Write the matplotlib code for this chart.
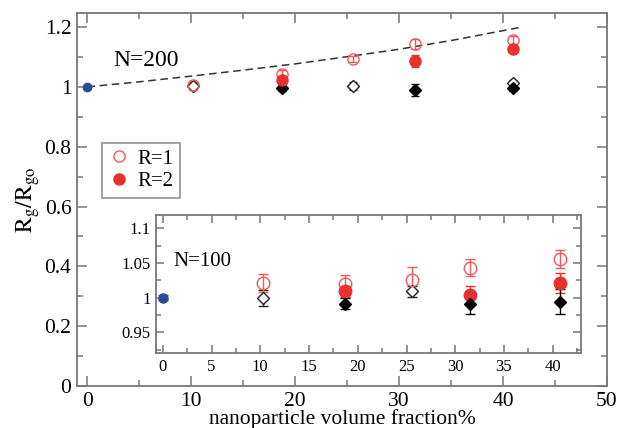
import matplotlib
matplotlib.use("Agg")
import matplotlib.pyplot as plt
from matplotlib.lines import Line2D
from matplotlib.ticker import MultipleLocator

plt.rcParams["font.family"] = ["Liberation Serif", "DejaVu Serif"]
plt.rcParams["mathtext.fontset"] = "stix"

# ---- main panel (N=200) ----
fit_x = [0, 5, 10, 15, 20, 25, 30, 35, 41.8]
fit_y = [1.0, 1.017, 1.036, 1.056, 1.077, 1.101, 1.126, 1.155, 1.2]

ref_x, ref_y, ref_err = [0], [1.0], [0.004]

r1_x = [10.2, 18.7, 25.6, 31.5, 41.0]
r1_y = [1.007, 1.043, 1.093, 1.143, 1.157]
r1_err = [0.01, 0.012, 0.01, 0.016, 0.014]

r2_x = [18.7, 31.5, 41.0]
r2_y = [1.023, 1.087, 1.127]
r2_err = [0.01, 0.02, 0.012]

d_open_x = [10.2, 25.6, 41.0]
d_open_y = [1.003, 1.003, 1.012]
d_open_err = [0.012, 0.012, 0.01]

d_fill_x = [18.7, 31.5, 41.0]
d_fill_y = [0.997, 0.99, 0.997]
d_fill_err = [0.01, 0.02, 0.012]

# ---- inset (N=100) ----
in_ref_x, in_ref_y, in_ref_err = [0], [1.0], [0.003]

in_r1_x = [10.3, 18.7, 25.6, 31.5, 40.7]
in_r1_y = [1.021, 1.020, 1.025, 1.043, 1.055]
in_r1_err = [0.013, 0.012, 0.019, 0.012, 0.013]

in_r2_x = [18.7, 31.5, 40.7]
in_r2_y = [1.009, 1.003, 1.021]
in_r2_err = [0.008, 0.014, 0.015]

in_d_open_x = [10.3, 18.7, 25.6]
in_d_open_y = [0.9995, 1.008, 1.009]
in_d_open_err = [0.012, 0.005, 0.008]

in_d_fill_x = [18.7, 31.5, 40.7]
in_d_fill_y = [0.991, 0.990, 0.994]
in_d_fill_err = [0.008, 0.014, 0.018]

legend_labels = ["R=1", "R=2"]

RED_OPEN = "#f05a5a"
RED = "#e8302c"
BLUE = "#2c4a9a"
GRAY = "#777777"


def style_axes(ax, size):
    for s in ax.spines.values():
        s.set_color(GRAY)
        s.set_linewidth(1.3)
    ax.tick_params(which="both", direction="in", top=True, right=True,
                   color=GRAY, labelsize=size, pad=4)
    ax.tick_params(which="major", length=7, width=1.1)
    ax.tick_params(which="minor", length=4, width=1.1)


fig = plt.figure(figsize=(6.19, 4.28), dpi=100)
ax = fig.add_axes([0.1244, 0.0981, 0.8562, 0.8715])

ax.plot(fit_x, fit_y, ls=(0, (5, 3)), color="#333333", lw=1.1, zorder=1)

eb = dict(capsize=3, elinewidth=1.0, capthick=1.0, linestyle="none", zorder=3)
ax.errorbar(d_open_x, d_open_y, yerr=d_open_err, marker="D", ms=6, mfc="white",
            mec="#222222", ecolor="#222222", **eb)
ax.errorbar(d_fill_x, d_fill_y, yerr=d_fill_err, marker="D", ms=6, mfc="black",
            mec="black", ecolor="black", **eb)
ax.errorbar(r1_x, r1_y, yerr=r1_err, marker="o", ms=8, mfc="none",
            mec=RED_OPEN, ecolor=RED_OPEN, **eb)
ax.errorbar(r2_x, r2_y, yerr=r2_err, marker="o", ms=8, mfc=RED,
            mec=RED, ecolor=RED, **eb)
ax.errorbar(ref_x, ref_y, yerr=ref_err, marker="o", ms=6, mfc=BLUE,
            mec=BLUE, ecolor=BLUE, **eb)

ax.set_xlim(-1, 50)
ax.set_ylim(0, 1.247)
ax.xaxis.set_major_locator(MultipleLocator(10))
ax.xaxis.set_minor_locator(MultipleLocator(5))
ax.yaxis.set_minor_locator(MultipleLocator(0.1))
ax.set_yticks([0, 0.2, 0.4, 0.6, 0.8, 1.0, 1.2])
ax.set_yticklabels(["0", "0.2", "0.4", "0.6", "0.8", "1", "1.2"])
style_axes(ax, 15.5)

ax.set_xlabel("nanoparticle volume fraction%", fontsize=15.5, labelpad=-1)
ax.set_ylabel(r"$\mathrm{R_g/R_{go}}$", fontsize=17, labelpad=2)
ax.text(0.068, 0.874, "N=200", transform=ax.transAxes, fontsize=17,
        va="center", ha="left")

handles = [
    Line2D([], [], ls="none", marker="o", ms=8, mfc="none", mec=RED_OPEN),
    Line2D([], [], ls="none", marker="o", ms=8, mfc=RED, mec=RED),
]
leg = ax.legend(handles, legend_labels, loc="upper left",
                bbox_to_anchor=(0.047, 0.652), fontsize=15,
                frameon=True, fancybox=False, handletextpad=0.4,
                borderpad=0.3, handlelength=1.0, labelspacing=0.15,
                borderaxespad=0)
leg.get_frame().set_edgecolor(GRAY)
leg.get_frame().set_linewidth(1.2)

# ---- inset ----
ins = fig.add_axes([0.252, 0.1752, 0.6866, 0.3224])
eb2 = dict(capsize=3.5, elinewidth=1.0, capthick=1.0, linestyle="none", zorder=3)
ins.errorbar(in_d_open_x, in_d_open_y, yerr=in_d_open_err, marker="D", ms=6,
             mfc="white", mec="#222222", ecolor="#222222", **eb2)
ins.errorbar(in_r1_x, in_r1_y, yerr=in_r1_err, marker="o", ms=9, mfc="none",
             mec=RED_OPEN, ecolor=RED_OPEN, **eb2)
ins.errorbar(in_r2_x, in_r2_y, yerr=in_r2_err, marker="o", ms=9, mfc=RED,
             mec=RED, ecolor=RED, **eb2)
ins.errorbar(in_d_fill_x, in_d_fill_y, yerr=in_d_fill_err, marker="D", ms=6,
             mfc="black", mec="black", ecolor="black", **eb2)
ins.errorbar(in_ref_x, in_ref_y, yerr=in_ref_err, marker="o", ms=6.5, mfc=BLUE,
             mec=BLUE, ecolor=BLUE, **eb2)

ins.set_xlim(-0.7, 42.9)
ins.set_ylim(0.92, 1.119)
ins.xaxis.set_major_locator(MultipleLocator(5))
ins.xaxis.set_minor_locator(MultipleLocator(2.5))
ins.set_yticks([0.95, 1.0, 1.05, 1.1])
ins.set_yticklabels(["0.95", "1", "1.05", "1.1"])
ins.yaxis.set_minor_locator(MultipleLocator(0.025))
style_axes(ins, 12)
ins.tick_params(which="major", length=6)
ins.tick_params(which="minor", length=3.5)
ins.text(0.04, 0.66, "N=100", transform=ins.transAxes, fontsize=15,
         va="center", ha="left")

fig.savefig("out.png", dpi=100)
